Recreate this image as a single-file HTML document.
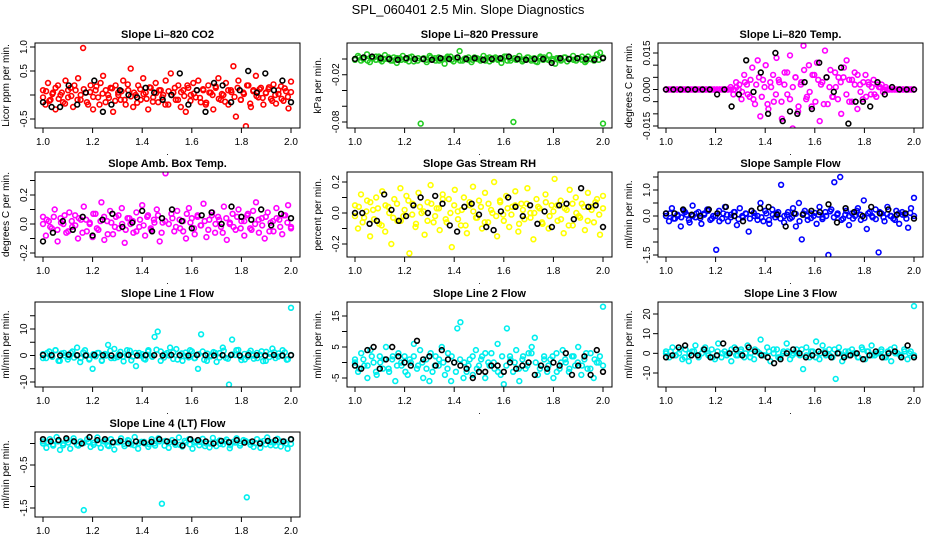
<!DOCTYPE html>
<html><head><meta charset="utf-8">
<style>
html,body{margin:0;padding:0;background:#fff;}
svg{display:block;font-family:"Liberation Sans",Arial,sans-serif;}
</style></head>
<body>
<svg id="c" width="936" height="540" viewBox="0 0 936 540">
<text x="468" y="14" text-anchor="middle" font-size="13">SPL_060401  2.5 Min. Slope Diagnostics</text>
</svg>
<script>
// ---- data arrays (y values; x spans 1.0..2.0 in sample order) ----
const xTicks = [1.0, 1.2, 1.4, 1.6, 1.8, 2.0];
const co2Vals = [0.1,-0.2,0.25,-0.1,0.05,-0.3,0.2,0.0,-0.15,0.3,-0.05,0.15,-0.25,0.1,0.35,-0.1,0.98,0.05,-0.2,0.2,-0.3,0.1,-0.05,0.25,0.4,-0.15,0.0,0.15,-0.35,0.2,0.05,-0.1,0.3,-0.2,0.1,0.55,-0.25,0.0,0.2,-0.1,0.35,0.05,-0.3,0.15,-0.05,0.25,-0.15,0.1,0.0,0.3,-0.2,0.45,0.05,-0.1,0.2,-0.25,0.1,-0.35,0.15,0.0,0.25,-0.05,0.3,-0.15,0.1,-0.2,0.2,0.05,-0.3,0.15,0.35,-0.1,0.0,0.25,-0.2,0.1,0.6,-0.45,0.3,-0.1,0.05,-0.65,0.2,-0.25,0.1,0.4,-0.05,0.15,-0.2,0.05,0.12,-0.08,0.22,-0.18,0.02,0.18,-0.12,0.08,-0.28,0.28];
const co2Vals2 = [-0.05,0.08,-0.12,0.02,0.15,-0.08,0.05,-0.18,0.1,-0.02,0.2,-0.1,0.0,0.12,-0.15,0.06,-0.04,0.18,-0.2,0.03,0.1,-0.06,0.14,-0.12,0.0,0.08,-0.1,0.22,-0.03,0.05,-0.16,0.12,0.02,-0.08,0.16,-0.14,0.04,0.1,-0.05,-0.2,0.08,0.0,0.15,-0.1,0.06,-0.02,0.2,-0.12,0.03,0.1,-0.06,0.12,-0.16,0.05,0.0,0.18,-0.08,0.02,-0.14,0.1,0.06,-0.04,0.15,-0.1,0.02,0.2,-0.18,0.08,-0.02,0.12,-0.06,0.04,0.16,-0.12,0.0,0.1,-0.08,0.14,-0.04,0.06];
const co2Ref = [-0.15,-0.25,-0.25,0.2,-0.2,0.05,0.3,-0.35,-0.2,0.1,0.0,-0.05,0.15,0.05,-0.1,0.0,0.45,-0.2,0.1,-0.35,0.25,0.2,-0.15,0.1,0.5,0.05,0.45,0.1,0.3,-0.15];
const presVals = [0.000,0.004,-0.002,0.002,0.006,-0.004,0.001,-0.001,0.003,-0.003,0.005,0.000,-0.002,0.002,-0.005,0.001,0.004,-0.001,-0.003,0.003,0.000,-0.002,-0.082,0.001,-0.004,0.004,0.000,-0.002,0.002,-0.001,-0.006,0.001,0.003,-0.003,0.000,0.010,-0.002,0.001,-0.001,-0.004,0.002,0.000,-0.002,0.004,0.001,-0.003,-0.001,0.002,0.000,-0.005,0.003,-0.002,0.001,-0.080,-0.001,0.004,-0.003,0.000,0.002,-0.002,0.001,-0.004,0.003,-0.001,0.000,0.005,-0.002,-0.006,0.001,-0.001,0.002,-0.003,0.000,0.004,-0.002,0.001,-0.001,-0.004,0.003,0.000,-0.002,0.006,0.008,-0.082];
const presVals2 = [-0.001,0.002,0.000,-0.002,0.001,0.003,-0.001,0.000,0.002,-0.002,0.001,-0.001,0.000,0.002,-0.003,0.001,0.000,-0.001,0.002,0.001,-0.002,0.000,0.003,-0.001,0.001,-0.002,0.000,0.002,-0.001,0.001,0.000,-0.002,0.002,0.001,-0.001,0.000,0.003,-0.002,0.001,0.000,-0.001,0.002,0.000,-0.003,0.001,0.002,-0.001,0.000,0.001,-0.002,0.002,0.000,-0.001,0.001,0.003,-0.002,0.000,0.001,-0.001,0.002];
const presRef = [0.000,0.002,0.003,0.001,0.000,-0.001,0.001,0.000,0.000,-0.001,0.001,0.000,0.002,0.000,0.001,-0.001,0.000,0.001,0.003,0.000,-0.001,0.000,0.000,-0.005,0.001,0.000,0.001,0.000,-0.001,0.001];
const tempVals = [0,0,0,0,0,0,0,0,0,0,0,0,0,0,0,0,0,0,0,0,0,0,0,0,0.001,-0.002,0.003,0.0,-0.004,0.006,0.002,-0.003,0.009,-0.006,0.012,-0.011,0.004,0.010,-0.008,0.001,-0.005,0.013,0.003,-0.012,0.007,-0.002,0.014,-0.016,0.005,-0.009,0.002,0.018,-0.004,0.010,-0.007,0.006,0.011,-0.013,0.003,0.016,-0.006,0.008,-0.003,0.001,0.005,-0.010,0.009,0.012,-0.005,0.004,0.007,-0.008,0.002,-0.004,0.006,0.003,-0.002,0.004,-0.003,0.001,0.002,0,0,0,0,0,0,0,0,0,0,0,0];
const tempVals2 = [0,0,0,0,0,0,0,0,0,0,0,0,0,0,0,0,0,0,0,0,0,0,0,0,0,0.001,0.002,-0.001,0.003,-0.002,0.004,-0.004,0.002,0.005,-0.003,0.001,-0.006,0.003,0.006,-0.002,0.004,-0.005,0.002,0.007,-0.004,0.001,0.005,-0.007,0.003,0.008,-0.003,-0.001,0.006,-0.005,0.004,0.002,-0.006,0.005,0.001,-0.003,0.007,-0.004,0.003,0.005,-0.002,0.004,-0.005,0.002,0.006,-0.001,0.003,-0.003,0.002,0.001,-0.002,0.002,0.001,-0.001,0.001,0,0,0,0,0,0,0,0,0,0];
const tempRef = [0,0,0,0,0,0,0,-0.002,0.0,-0.007,-0.002,0.012,-0.001,0.007,-0.010,0.015,-0.013,-0.009,-0.010,0.003,-0.008,0.011,0.005,-0.001,0.009,-0.014,-0.005,-0.005,-0.007,0.003,-0.002,0.001,0,0,0];
const ambVals = [0.05,-0.08,0.02,-0.03,0.10,-0.12,0.04,0.00,-0.06,0.08,-0.02,0.06,-0.10,0.03,0.12,-0.05,0.01,-0.09,0.07,-0.04,0.15,-0.11,0.02,0.09,-0.07,0.05,-0.03,0.11,-0.13,0.04,0.00,-0.06,0.08,-0.02,0.13,-0.08,0.06,-0.04,0.03,0.10,-0.12,0.01,0.35,-0.25,0.07,-0.05,0.09,-0.03,0.02,-0.10,0.11,0.04,-0.07,0.06,-0.01,0.14,-0.09,0.03,0.08,-0.06,0.05,-0.02,0.12,-0.11,0.00,0.07,-0.04,0.10,0.02,-0.08,0.06,-0.03,0.09,0.15,-0.06,0.04,-0.10,0.08,0.01,-0.05,0.11,0.03,-0.07,0.06,0.13,-0.02];
const ambVals2 = [0.00,0.03,-0.02,0.05,-0.04,0.01,0.06,-0.05,0.02,-0.01,0.04,-0.06,0.03,0.00,0.07,-0.03,0.02,0.05,-0.07,0.01,-0.02,0.06,0.00,-0.04,0.04,0.02,-0.05,0.03,-0.01,0.05,-0.03,0.01,0.06,-0.06,0.02,0.00,0.04,-0.02,0.03,-0.05,0.07,0.01,-0.03,0.05,-0.01,0.02,-0.04,0.06,0.00,0.03,-0.06,0.04,0.01,-0.02,0.05,-0.03,0.02,0.07,-0.04,0.00,0.03,-0.01,0.05,-0.05,0.02,0.04,-0.02,0.06,0.01,-0.03];
const ambRef = [-0.12,-0.06,0.02,-0.04,0.05,-0.08,0.03,0.07,-0.02,0.01,0.09,-0.05,0.04,0.10,0.02,-0.03,0.06,0.08,0.00,0.12,0.05,0.03,0.10,-0.01,0.07,0.04];
const rhVals = [0.05,-0.10,0.12,-0.03,0.08,-0.15,0.02,0.10,-0.07,0.14,-0.12,0.04,-0.20,0.09,-0.05,0.16,-0.02,0.11,-0.26,0.06,-0.09,0.13,0.00,-0.14,0.07,0.18,-0.06,0.03,-0.11,0.12,-0.04,0.09,-0.22,0.15,0.01,-0.08,0.10,-0.13,0.05,0.17,-0.03,0.08,-0.10,0.13,-0.06,0.02,0.20,-0.15,0.07,-0.01,0.11,-0.09,0.04,0.14,-0.12,0.06,-0.04,0.16,0.00,-0.17,0.09,0.03,-0.07,0.12,-0.10,0.05,0.22,-0.05,0.08,-0.13,0.02,0.15,-0.08,0.10,-0.02,0.06,-0.11,0.13,0.04,-0.06,0.09,-0.14,0.11];
const rhVals2 = [-0.02,0.04,-0.06,0.01,0.07,-0.04,0.03,-0.08,0.05,0.00,-0.03,0.06,-0.05,0.02,0.08,-0.01,-0.07,0.04,0.01,-0.05,0.06,-0.02,0.03,0.09,-0.06,0.00,0.05,-0.04,0.02,-0.08,0.07,0.01,-0.03,0.04,-0.06,0.06,0.00,-0.02,0.08,-0.05,0.03,-0.01,0.05,-0.07,0.02,0.06,-0.03,0.00,0.04,-0.06,0.07,-0.02,0.01,0.05,-0.04,0.03,-0.08,0.06,0.00,-0.03,0.04,-0.05,0.02,0.07,-0.01,0.03];
const rhRef = [0.0,0.0,-0.07,-0.05,0.12,0.02,-0.05,-0.02,0.05,0.10,0.0,0.11,0.06,-0.08,-0.12,0.04,0.06,-0.01,-0.09,-0.11,0.01,0.10,0.04,-0.02,0.05,-0.07,0.01,-0.09,0.05,0.06,-0.04,0.16,0.04,0.05,-0.09];
const flowVals = [0.1,-0.2,0.3,-0.1,0.0,-0.4,0.2,0.05,-0.25,0.4,-0.05,0.15,-0.3,0.1,0.25,-0.15,0.0,-1.3,0.2,-0.1,0.35,-0.2,0.05,0.15,-0.35,0.3,-0.05,0.1,-0.6,0.2,0.0,-0.15,0.5,-0.2,0.1,-0.3,0.25,-0.05,0.15,1.2,-0.25,0.05,-0.1,0.3,-0.4,0.5,-0.9,0.2,-0.15,0.1,0.0,-0.3,0.35,-0.05,0.15,-1.5,0.25,1.3,0.05,1.5,-0.1,0.2,-0.35,0.1,0.0,0.3,-0.15,0.6,-0.5,0.15,-0.05,0.25,-1.4,0.1,-0.2,0.35,0.0,-0.1,0.2,-0.3,0.15,0.05,-0.45,0.3,0.7];
const flowVals2 = [0.0,0.1,-0.1,0.05,-0.05,0.15,-0.15,0.0,0.1,-0.08,0.05,0.2,-0.1,0.0,-0.2,0.1,0.05,-0.05,0.15,-0.12,0.0,0.08,-0.1,0.12,0.0,-0.05,0.2,-0.15,0.05,0.1,-0.1,0.0,0.15,-0.05,0.08,-0.2,0.1,0.0,-0.08,0.12,0.05,-0.12,0.0,0.18,-0.05,0.1,-0.15,0.05,0.0,-0.1,0.2,0.05,-0.08,0.1,0.0,-0.12,0.15,-0.05,0.08,0.0,-0.15,0.1,0.05,-0.1,0.12,0.0];
const flowRef = [0.1,0.1,0.25,0.05,0.0,0.25,0.1,0.35,0.0,-0.2,0.2,0.3,0.35,0.05,-0.4,0.1,0.05,0.2,0.15,0.45,-0.25,0.3,0.15,0.0,0.35,0.1,0.25,0.05,0.1,-0.1];
const l1Vals = [0.5,-1,1.5,-0.5,2,-2,0.8,0,-1.5,1,-0.8,3,-2.5,1.2,0.3,-1.2,-5,-0.3,1,-1.8,0.6,4,-1,2.5,-0.6,1.4,-2.2,0.2,1.8,-0.4,-4,1,0.5,-1.5,2,-0.2,7,9,1.5,-0.8,0.9,3,-1.3,2.4,0.1,-2,1.1,-0.7,1.6,-1,-5,8,-1.6,0.7,-0.3,1.3,-2.4,0.9,3,-0.9,-11,6,0.2,2.1,-1.7,0.6,-0.5,1.8,-1.2,1,0.3,-2.1,1.4,-0.6,2.6,-1,0.8,0,1.2,-1.4,18];
const l1Vals2 = [-1,1,0,2,-2,1,-0.5,1.5,0,-1,2,-1.5,0.5,1,-2,0,1.8,-1,0.5,-0.5,2,-1.8,1,0,-1.2,1.5,-0.5,2.2,-2,0.5,0,1.2,-1.5,0.8,-0.2,2,-1,0.5,1.5,-2,0,1,-0.8,1.8,-1.2,0.4,2,-0.5,-1.5,1,0,-1,1.6,-2,0.6,1.2,-0.4,2,-1.6,0.2];
const l1Ref = [0.2,0.1,0,0.3,0.1,0,0.2,0.1,0,0.1,0.2,0,0.1,0.1,0,0.2,0.1,0,0.2,0.1,0,0.1,0.2,0,0.1,0.1,0,0.2,0,0.1];
const l2Vals = [1,-3,3,-1,-5,4,0,-4,2,-2,5,-3,1,-6,3,-1,2,-4,0,6,-2,4,-5,1,-6,-3,2,-1,5,-4,3,-6,0,11,13,-5,-3,1,-4,4,-1,2,-5,0,3,-2,6,-4,-7,11,2,-3,4,-6,1,-2,3,5,8,-4,-1,2,-3,1,-5,3,-2,4,0,-3,2,-1,5,-4,1,-2,3,-5,0,2,18];
const l2Vals2 = [0,-2,1,-1,2,-3,0,1,-2,2,-1,0,-3,1,2,-1,0,-2,3,-1,1,0,-2,2,-3,1,0,-1,2,-2,1,3,-1,0,-3,2,-1,1,0,-2,2,-1,3,0,-2,1,-1,2,-3,0,1,-2,2,0,-1,3,-2,1,0,-1];
const l2Ref = [-1,-2,4,5,-2,1,5,2,0,-1,7,1,2,-1,4,1,0,-1,-2,-5,-3,-3,-1,-1,-3,0,-2,-1,0,-4,-1,-2,0,-1,3,-4,-1,2,-4,4,-3];
const l3Vals = [1,-2,3,-1,0,-3,2,-4,1,4,-2,0,3,-1,2,-3,5,-2,1,0,-4,3,-1,2,-2,4,0,-3,1,7,-1,3,-4,0,2,-2,1,5,-3,0,2,-1,-8,3,-2,1,6,-3,4,-1,2,-2,-13,3,-4,1,-1,2,0,-2,3,-3,1,4,-1,0,2,-2,1,-4,3,0,-1,2,-3,1,24];
const l3Vals2 = [0,1,-1,2,-2,0,1,-1,2,0,-2,1,0,-1,2,-1,1,0,-2,2,0,-1,1,2,-2,0,1,-1,0,2,-1,1,-2,0,1,-1,2,0,-1,1,0,-2,2,1,-1,0,1,-2,2,0,-1,1,0,-1];
const l3Ref = [-2,-1,3,4,-1,-1,2,-2,-1,5,0,2,-1,3,1,-1,-2,-5,-3,0,2,0,-2,-1,1,0,-2,0,-2,-1,0,-3,-1,1,-2,0,1,-2,4,-2];
const l4Vals = [0.05,-0.1,0.1,-0.05,0.15,-0.15,0.0,0.08,-0.12,0.12,-0.03,0.05,-1.55,0.1,-0.08,0.02,0.14,-0.1,0.06,-0.04,0.1,-0.14,0.03,0.12,-0.06,0.08,-0.02,0.15,-0.12,0.04,0.0,-0.08,0.1,-0.05,0.12,-1.4,0.06,-0.1,0.08,-0.03,0.14,-0.07,0.02,0.1,-0.12,0.05,-0.04,0.11,0.0,-0.09,0.13,-0.06,0.07,-0.02,0.09,-0.11,0.04,0.12,-0.05,0.08,-1.25,0.03,-0.08,0.1,-0.1,0.06,0.14,-0.04,0.02,0.11,-0.07,0.05,-0.12,0.09];
const l4Vals2 = [0.0,0.03,-0.02,0.05,-0.04,0.02,0.06,-0.05,0.01,0.04,-0.03,0.0,0.05,-0.06,0.02,0.03,-0.01,0.06,-0.04,0.01,0.04,-0.02,0.0,0.05,-0.05,0.03,0.01,-0.03,0.06,-0.02,0.02,0.04,-0.06,0.0,0.03,-0.01,0.05,-0.04,0.02,0.0,0.06,-0.03,0.01,0.04,-0.02,0.03,-0.05,0.05,0.0,-0.01];
const l4Ref = [0.1,0.05,0.08,0.12,0.05,0.0,0.15,0.08,0.1,0.03,0.06,0.0,0.05,0.02,0.04,0.1,0.05,0.03,-0.05,0.1,0.08,0.05,0.0,0.06,0.03,0.08,0.02,0.05,0.0,0.06,0.08,0.05,0.1];

// ---- panel layout ----
const svg = document.getElementById('c');
const NS = 'http://www.w3.org/2000/svg';
function el(tag, attrs, parent){const e=document.createElementNS(NS,tag);for(const k in attrs)e.setAttribute(k,attrs[k]);(parent||svg).appendChild(e);return e;}

const colL = [35,347,658], rowT = [43,172,302,432], W = 265, H = 85;
const panels = [
 {t:'Slope Li\u2013820 CO2', yl:'Licor ppm per min.', c:0,r:0, v:[co2Vals,co2Vals2], b:co2Ref, col:'#ff0000', yA:1.0, pA:47, yB:-0.5, pB:119, ticks:[-0.5,0,0.5,1.0], labs:[-0.5,0.5,1.0], fmt:1},
 {t:'Slope Li\u2013820 Pressure', yl:'kPa per min.', c:1,r:0, v:[presVals,presVals2], b:presRef, col:'#22cc22', yA:0.0, pA:59, yB:-0.08, pB:122, ticks:[0,-0.02,-0.04,-0.06,-0.08], labs:[-0.02,-0.08], fmt:2},
 {t:'Slope Li\u2013820 Temp.', yl:'degrees C per min.', c:2,r:0, v:[tempVals,tempVals2], b:tempRef, col:'#ff00ff', yA:0.015, pA:53, yB:-0.015, pB:126, ticks:[0.015,0.01,0.005,0,-0.005,-0.01,-0.015], labs:[0.015,0,-0.015], fmt:3},
 {t:'Slope Amb. Box Temp.', yl:'degrees C per min.', c:0,r:1, v:[ambVals,ambVals2], b:ambRef, col:'#ff00ff', yA:0.2, pA:195, yB:-0.2, pB:253, ticks:[0.3,0.2,0.1,0,-0.1,-0.2], labs:[0.2,0,-0.2], fmt:1},
 {t:'Slope Gas Stream RH', yl:'percent per min.', c:1,r:1, v:[rhVals,rhVals2], b:rhRef, col:'#ffff00', yA:0.2, pA:182, yB:-0.2, pB:244, ticks:[0.2,0.1,0,-0.1,-0.2], labs:[0.2,0,-0.2], fmt:1},
 {t:'Slope Sample Flow', yl:'ml/min per min.', c:2,r:1, v:[flowVals,flowVals2], b:flowRef, col:'#0000ff', yA:1.0, pA:190, yB:-1.5, pB:255, ticks:[1.5,1,0.5,0,-0.5,-1,-1.5], labs:[1,0,-1.5], fmt:1},
 {t:'Slope Line 1 Flow', yl:'ml/min per min.', c:0,r:2, v:[l1Vals,l1Vals2], b:l1Ref, col:'#00eeee', yA:10, pA:329, yB:-10, pB:382, ticks:[15,10,5,0,-5,-10], labs:[10,0,-10], fmt:0},
 {t:'Slope Line 2 Flow', yl:'ml/min per min.', c:1,r:2, v:[l2Vals,l2Vals2], b:l2Ref, col:'#00eeee', yA:15, pA:316, yB:-5, pB:378, ticks:[15,10,5,0,-5], labs:[15,5,-5], fmt:0},
 {t:'Slope Line 3 Flow', yl:'ml/min per min.', c:2,r:2, v:[l3Vals,l3Vals2], b:l3Ref, col:'#00eeee', yA:20, pA:314, yB:-10, pB:373, ticks:[20,10,0,-10], labs:[20,10,0,-10], fmt:0},
 {t:'Slope Line 4 (LT) Flow', yl:'ml/min per min.', c:0,r:3, v:[l4Vals,l4Vals2], b:l4Ref, col:'#00eeee', yA:-0.5, pA:465, yB:-1.5, pB:508, ticks:[0,-0.5,-1,-1.5], labs:[-0.5,-1.5], fmt:1},
];

panels.forEach((p,pi)=>{
  const L = colL[p.c], T = rowT[p.r];
  const g = el('g',{});
  
  
  const xS = x => L + 8 + (x-1.0)*248;
  const yS = y => p.pA + (y-p.yA)*(p.pB-p.pA)/(p.yB-p.yA);
  const t = el('text',{x:L+W/2,y:T-5,'text-anchor':'middle','font-size':11,'font-weight':'bold'},g);
  t.textContent = p.t;
  
  
  const cp = 'clip'+pi;
  const cl = el('clipPath',{id:cp},g); el('rect',{x:L,y:T,width:W,height:H},cl);
  const pts = el('g',{'clip-path':'url(#'+cp+')'},g);
  const drawSeries = (arr,color,name)=>{
    arr.forEach((v,i)=>{
      const x = 1.0 + i/(arr.length-1);
      const c = el('circle',{cx:xS(x).toFixed(1),cy:yS(v).toFixed(1),r:2.4,fill:'none',stroke:color,'stroke-width':1.6},pts);
      
      
    });
  };
  p.v.forEach(a=>drawSeries(a,p.col,'data-point'));
  drawSeries(p.b,'#000','reference-point');
  const box = el('rect',{x:L,y:T,width:W,height:H,fill:'none',stroke:'#000','stroke-width':1},g);
  
  
  el('line',{x1:xS(1),x2:xS(2),y1:T+H,y2:T+H,stroke:'#000'},g);
  xTicks.forEach(v=>{
    el('line',{x1:xS(v),x2:xS(v),y1:T+H,y2:T+H+5,stroke:'#000'},g);
    const tl = el('text',{x:xS(v),y:T+H+17,'text-anchor':'middle','font-size':10},g);
    tl.textContent = v.toFixed(1);
    
    
  });
  const dot = el('text',{x:L+W/2,y:T+H+27,'text-anchor':'middle','font-size':9},g);
  dot.textContent='.';
  const yt = p.ticks.map(yS);
  el('line',{x1:L,x2:L,y1:Math.min(...yt),y2:Math.max(...yt),stroke:'#000'},g);
  p.ticks.forEach(v=>{ el('line',{x1:L-5,x2:L,y1:yS(v),y2:yS(v),stroke:'#000'},g); });
  p.labs.forEach(v=>{
    const yy = yS(v);
    const tl = el('text',{x:L-8,y:yy,'text-anchor':'middle','font-size':10,transform:'rotate(-90 '+(L-8)+' '+yy+')'},g);
    tl.textContent = v.toFixed(p.fmt);
    
    
  });
  const yl = el('text',{x:L-26,y:T+H/2,'text-anchor':'middle','font-size':10,transform:'rotate(-90 '+(L-26)+' '+(T+H/2)+')'},g);
  yl.textContent = p.yl;
  
  
});
</script>
</body></html>
